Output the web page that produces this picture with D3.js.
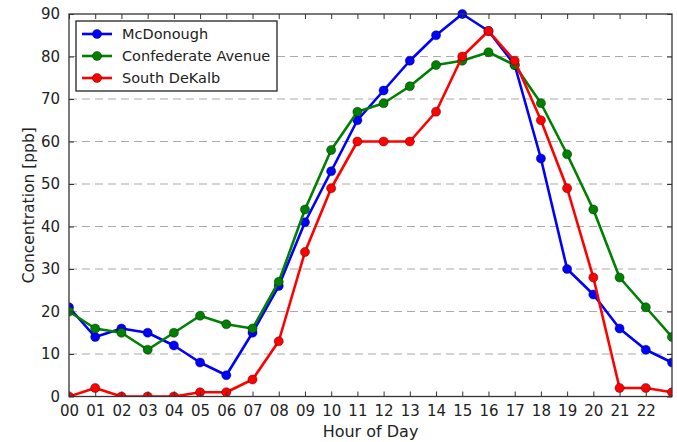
<!DOCTYPE html>
<html>
<head>
<meta charset="utf-8">
<script src="https://cdn.jsdelivr.net/npm/d3@7"></script>
<style>
  body { margin: 0; background: #fff; }
  text { font-family: "DejaVu Sans", sans-serif; }
</style>
</head>
<body>
<svg id="chart" width="677" height="442"></svg>
<script>
// Hourly ozone concentration at three monitoring sites
const hours = d3.range(0, 24);
const hourLabels = ["00","01","02","03","04","05","06","07","08","09","10","11",
                    "12","13","14","15","16","17","18","19","20","21","22"];
const mcdonough   = [21,14,16,15,12,8,5,15,26,41,53,65,72,79,85,90,86,78,56,30,24,16,11,8];
const confederate = [20,16,15,11,15,19,17,16,27,44,58,67,69,73,78,79,81,78,69,57,44,28,21,14];
const southDekalb = [0,2,0,0,0,1,1,4,13,34,49,60,60,60,67,80,86,79,65,49,28,2,2,1];
const yTicks = [0,10,20,30,40,50,60,70,80,90];

const series = [
  { name: "McDonough", values: mcdonough, color: "#0000ff" },
  { name: "Confederate Avenue", values: confederate, color: "#008000" },
  { name: "South DeKalb", values: southDekalb, color: "#ff0000" }
];

const svg = d3.select("#chart");
const plotLeft = 69, plotRight = 672, plotTop = 14, plotBottom = 396.5;

const x = d3.scaleLinear().domain([0, 23]).range([plotLeft, plotRight]);
const y = d3.scaleLinear().domain([0, 90]).range([plotBottom, plotTop]);

// dashed horizontal grid
svg.append("g").selectAll("line")
  .data(yTicks.filter(v => v > 0 && v < 90))
  .join("line")
  .attr("x1", plotLeft).attr("x2", plotRight)
  .attr("y1", d => y(d)).attr("y2", d => y(d))
  .attr("stroke", "#aaaaaa").attr("stroke-width", 1.2)
  .attr("stroke-dasharray", "8,5");

// lines and markers, clipped to the plot area
svg.append("clipPath").attr("id", "plotclip")
  .append("rect").attr("x", plotLeft).attr("y", plotTop - 6)
  .attr("width", plotRight - plotLeft).attr("height", plotBottom - plotTop + 6);

const line = d3.line().x((d, i) => x(hours[i])).y(d => y(d));
const plot = svg.append("g").attr("clip-path", "url(#plotclip)");
series.forEach(s => {
  plot.append("path").datum(s.values)
    .attr("d", line).attr("fill", "none")
    .attr("stroke", s.color).attr("stroke-width", 2.6)
    .attr("stroke-linejoin", "round");
  plot.append("g").selectAll("circle").data(s.values).join("circle")
    .attr("cx", (d, i) => x(hours[i])).attr("cy", d => y(d))
    .attr("r", 4.6).attr("fill", s.color)
    .attr("stroke", "#000").attr("stroke-opacity", 0.6).attr("stroke-width", 0.6);
});

// axes frame
svg.append("rect").attr("x", plotLeft).attr("y", plotTop)
  .attr("width", plotRight - plotLeft).attr("height", plotBottom - plotTop)
  .attr("fill", "none").attr("stroke", "#333").attr("stroke-width", 1.3);

const tickLen = 5;
const xAxisB = d3.axisBottom(x).tickValues(d3.range(0, 23))
  .tickFormat((d, i) => hourLabels[i]).tickSizeInner(-tickLen).tickSizeOuter(0).tickPadding(9);
const gxb = svg.append("g").attr("transform", `translate(0,${plotBottom})`).call(xAxisB);
const xAxisT = d3.axisTop(x).tickValues(d3.range(0, 23))
  .tickFormat("").tickSizeInner(-tickLen).tickSizeOuter(0);
const gxt = svg.append("g").attr("transform", `translate(0,${plotTop})`).call(xAxisT);
const yAxisL = d3.axisLeft(y).tickValues(yTicks).tickSizeInner(-tickLen).tickSizeOuter(0).tickPadding(9);
const gyl = svg.append("g").attr("transform", `translate(${plotLeft},0)`).call(yAxisL);
const yAxisR = d3.axisRight(y).tickValues(yTicks).tickFormat("").tickSizeInner(-tickLen).tickSizeOuter(0);
const gyr = svg.append("g").attr("transform", `translate(${plotRight},0)`).call(yAxisR);

[gxb, gxt, gyl, gyr].forEach(g => {
  g.select(".domain").remove();
  g.selectAll(".tick line").attr("stroke", "#333").attr("stroke-width", 1);
  g.selectAll(".tick text").attr("fill", "#222").style("font-size", "15px")
    .style("font-family", "'DejaVu Sans', sans-serif");
});

// axis titles
svg.append("text").attr("x", (plotLeft + plotRight) / 2).attr("y", 437)
  .attr("text-anchor", "middle").style("font-size", "16px").attr("fill", "#222")
  .text("Hour of Day");
svg.append("text")
  .attr("transform", `translate(34,${(plotTop + plotBottom) / 2}) rotate(-90)`)
  .attr("text-anchor", "middle").style("font-size", "15.5px").attr("fill", "#222")
  .text("Concentration [ppb]");

// legend
const lg = svg.append("g");
lg.append("rect").attr("x", 76).attr("y", 21).attr("width", 201).attr("height", 70)
  .attr("fill", "#fff").attr("stroke", "#222").attr("stroke-width", 1.3);
series.forEach((s, i) => {
  const cy = 34 + i * 22;
  lg.append("line").attr("x1", 82).attr("x2", 112).attr("y1", cy).attr("y2", cy)
    .attr("stroke", s.color).attr("stroke-width", 2.6);
  lg.append("circle").attr("cx", 97).attr("cy", cy).attr("r", 4.6)
    .attr("fill", s.color).attr("stroke", "#000").attr("stroke-opacity", 0.6).attr("stroke-width", 0.6);
  lg.append("text").attr("x", 122).attr("y", cy + 5)
    .style("font-size", "14.5px").attr("fill", "#222").text(s.name);
});
</script>
</body>
</html>
